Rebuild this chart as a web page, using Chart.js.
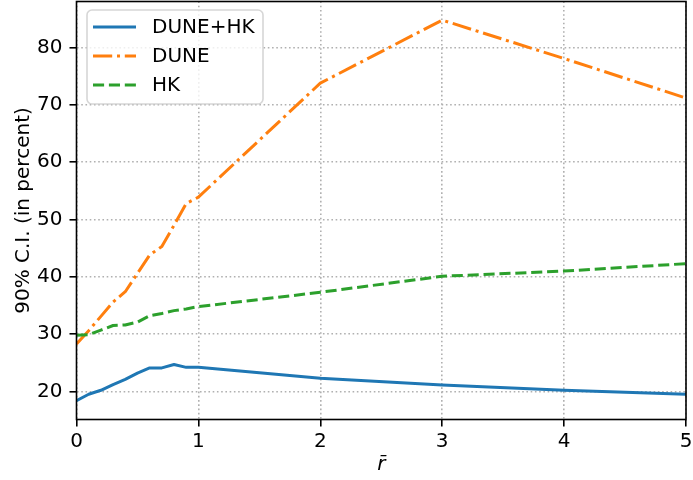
<!DOCTYPE html>
<html>
<head>
<meta charset="utf-8">
<script src="https://cdn.jsdelivr.net/npm/chart.js@4"></script>
<style>
  body { margin: 0; background: #fff; }
  canvas { display: block; }
</style>
</head>
<body>
<canvas id="ciChart" width="693" height="480"></canvas>
<script>
// r-bar values (x axis)
const rBar = [0, 0.1, 0.2, 0.3, 0.4, 0.5, 0.6, 0.7, 0.8, 0.9, 1, 2, 3, 4, 5];
// 90% C.I. in percent
const duneHK = [18.4, 19.5, 20.2, 21.2, 22.1, 23.2, 24.1, 24.1, 24.7, 24.2, 24.2, 22.3, 21.1, 20.2, 19.5];
const dune   = [28.3, 30.6, 33.1, 35.6, 37.4, 40.6, 43.8, 45.3, 49.0, 52.8, 53.9, 73.8, 84.8, 78.1, 71.2];
const hk     = [29.8, 29.9, 30.7, 31.5, 31.6, 32.1, 33.2, 33.6, 34.1, 34.4, 34.8, 37.3, 40.1, 41.0, 42.3];

const xTicks = [0, 1, 2, 3, 4, 5];
const yTicks = [20, 30, 40, 50, 60, 70, 80];

Chart.defaults.font.family = "'DejaVu Sans', sans-serif";
Chart.defaults.font.size = 20;
Chart.defaults.color = "#000";

function points(ys) {
  return rBar.map((r, i) => ({ x: r, y: ys[i] }));
}

// matplotlib style frame + legend inside the axes
const frameAndLegend = {
  id: "frameAndLegend",
  afterDraw(chart) {
    const ctx = chart.ctx;
    const a = chart.chartArea;
    ctx.save();
    ctx.strokeStyle = "#000";
    ctx.lineWidth = 1.6;
    ctx.setLineDash([]);
    ctx.strokeRect(a.left, a.top, a.right - a.left, a.bottom - a.top);

    // legend box
    const bx = 87, by = 10, bw = 176, bh = 94, rad = 5;
    ctx.beginPath();
    ctx.roundRect(bx, by, bw, bh, rad);
    ctx.fillStyle = "rgba(255,255,255,0.8)";
    ctx.fill();
    ctx.strokeStyle = "rgba(204,204,204,0.8)";
    ctx.lineWidth = 1.6;
    ctx.stroke();

    const rows = [27, 56, 85];
    chart.data.datasets.forEach((ds, i) => {
      const y = rows[i];
      ctx.beginPath();
      ctx.strokeStyle = ds.borderColor;
      ctx.lineWidth = ds.borderWidth;
      ctx.setLineDash(ds.borderDash || []);
      ctx.moveTo(93, y);
      ctx.lineTo(136, y);
      ctx.stroke();
      ctx.setLineDash([]);
      ctx.fillStyle = "#000";
      ctx.font = "20px 'DejaVu Sans'";
      ctx.textAlign = "left";
      ctx.textBaseline = "middle";
      ctx.fillText(ds.label, 152, y + 1);
    });
    ctx.restore();
  }
};

const gridOpts = {
  color: "#b0b0b0",
  lineWidth: 1.6,
  tickColor: "#000",
  tickWidth: 1.6,
  tickLength: 7,
  tickBorderDash: []
};

new Chart(document.getElementById("ciChart").getContext("2d"), {
  type: "line",
  data: {
    datasets: [
      {
        label: "DUNE+HK",
        data: points(duneHK),
        borderColor: "#1f77b4",
        borderWidth: 3,
        borderDash: [],
        order: 3
      },
      {
        label: "DUNE",
        data: points(dune),
        borderColor: "#ff7f0e",
        borderWidth: 3,
        borderDash: [19.2, 4.8, 3, 4.8],
        order: 2
      },
      {
        label: "HK",
        data: points(hk),
        borderColor: "#2ca02c",
        borderWidth: 3,
        borderDash: [11.1, 4.8],
        order: 1
      }
    ]
  },
  options: {
    responsive: false,
    animation: false,
    layout: { padding: { left: 0, right: 7, top: 1.5, bottom: 0 } },
    elements: {
      point: { radius: 0 },
      line: { tension: 0, fill: false, borderJoinStyle: "round", borderCapStyle: "butt" }
    },
    plugins: {
      legend: { display: false },
      tooltip: { enabled: false }
    },
    scales: {
      x: {
        type: "linear",
        min: 0,
        max: 5,
        grid: gridOpts,
        border: { display: false, dash: [1.6, 2.64] },
        ticks: { padding: 3 },
        afterBuildTicks: (scale) => { scale.ticks = xTicks.map(v => ({ value: v })); },
        afterFit: (scale) => {
          scale.height = 60.5;
          scale.paddingLeft = 0;
          scale.paddingRight = 0;
        },
        title: {
          display: true,
          text: "r\u0304",
          font: { style: "italic", size: 20 },
          padding: { top: 0, bottom: 3 }
        }
      },
      y: {
        type: "linear",
        min: 15.1,
        max: 88.05,
        grid: gridOpts,
        border: { display: false, dash: [1.6, 2.64] },
        ticks: { padding: 7 },
        afterBuildTicks: (scale) => { scale.ticks = yTicks.map(v => ({ value: v })); },
        afterFit: (scale) => {
          scale.width = 76.5;
          scale.paddingTop = 0;
          scale.paddingBottom = 0;
        },
        title: {
          display: true,
          text: "90% C.I. (in percent)",
          padding: { top: 12, bottom: 0 }
        }
      }
    }
  },
  plugins: [frameAndLegend]
});
</script>
</body>
</html>
